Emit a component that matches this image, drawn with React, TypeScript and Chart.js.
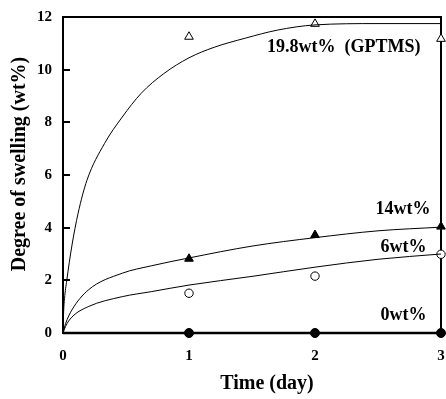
import React, { useEffect, useRef } from "react";
import { Chart, registerables } from "chart.js";
Chart.register(...registerables);

// ---- data ----
const timeTicks = [0, 1, 2, 3];
const swellingTicks = [0, 2, 4, 6, 8, 10, 12];

// measured points (time in days, swelling in wt%)
const measTime = [1, 2, 3];
const gptms198 = [11.25, 11.74, 11.17];
const wt14 = [2.82, 3.72, 4.04];
const wt6 = [1.51, 2.16, 2.99];
const wt0 = [0, 0, 0];

// fitted curves
const fit198T = [0, 0.004, 0.012, 0.03, 0.07, 0.12, 0.19, 0.33, 0.47, 0.62, 0.8, 1.0, 1.2, 1.45, 1.7, 2.0, 2.5, 3.0];
const fit198V = [0, 0.7, 1.3, 2.0, 3.3, 4.55, 5.8, 7.2, 8.2, 9.1, 9.85, 10.45, 10.85, 11.2, 11.5, 11.7, 11.75, 11.75];
const fit14T = [0, 0.02, 0.07, 0.2, 0.47, 0.7, 1.0, 1.5, 2.0, 2.5, 3.0];
const fit14V = [0, 0.35, 0.87, 1.63, 2.27, 2.55, 2.85, 3.3, 3.62, 3.88, 4.02];
const fit6T = [0, 0.02, 0.07, 0.2, 0.47, 0.7, 1.0, 1.5, 2.0, 2.5, 3.0];
const fit6V = [0, 0.25, 0.6, 1.0, 1.38, 1.57, 1.82, 2.15, 2.5, 2.8, 3.0];
const fit0T = [0, 1, 2, 3];
const fit0V = [0, 0, 0, 0];

const seriesLabels = ["19.8wt%  (GPTMS)", "14wt%", "6wt%", "0wt%"];
const labelAnchorT = [1.62, 2.48, 2.52, 2.52];
const labelAnchorV = [10.86, 4.71, 3.27, 0.68];

const xTitle = "Time (day)";
const yTitle = "Degree of swelling (wt%)";

const pts = (xs: number[], ys: number[]) => xs.map((x, i) => ({ x, y: ys[i] }));

const FONT = '"Liberation Serif", "Times New Roman", serif';

const zeroPad = (s: any) => {
  s.paddingLeft = 0;
  s.paddingRight = 0;
  s.paddingTop = 0;
  s.paddingBottom = 0;
};

const overlay = {
  id: "overlay",
  beforeDatasetsDraw(chart: any) {
    const { ctx, chartArea: a, scales } = chart;
    const ys = scales.y;
    ctx.save();
    ctx.strokeStyle = "#000";
    ctx.lineWidth = 2;
    ctx.strokeRect(a.left, a.top, a.right - a.left, a.bottom - a.top);
    // inward tick marks on the left axis
    ctx.beginPath();
    ys.ticks.forEach((t: any) => {
      const py = Math.round(ys.getPixelForValue(t.value));
      ctx.moveTo(a.left, py);
      ctx.lineTo(a.left + 7, py);
    });
    ctx.stroke();
    ctx.restore();
  },
  afterDatasetsDraw(chart: any) {
    const { ctx, chartArea: a, scales } = chart;
    const xs = scales.x;
    const ys = scales.y;
    ctx.save();
    ctx.fillStyle = "#000";
    ctx.font = `bold 18px ${FONT}`;
    ctx.textAlign = "left";
    ctx.textBaseline = "middle";
    seriesLabels.forEach((t, i) => {
      ctx.fillText(t, xs.getPixelForValue(labelAnchorT[i]), ys.getPixelForValue(labelAnchorV[i]));
    });
    // axis titles
    ctx.font = `bold 20px ${FONT}`;
    ctx.textAlign = "center";
    ctx.fillText(xTitle, a.left + 204, a.bottom + 51);
    ctx.translate(20, a.top + 147);
    ctx.rotate(-Math.PI / 2);
    ctx.font = `bold 20px ${FONT}`;
    ctx.fillText(yTitle, 0, 0);
    ctx.restore();
  },
};

export default function App() {
  const ref = useRef<HTMLCanvasElement>(null);
  useEffect(() => {
    if (!ref.current) return;
    const curve = (data: any, width = 1) => ({
      data,
      borderColor: "#000",
      borderWidth: width,
      pointRadius: 0,
      showLine: true,
      fill: false,
      cubicInterpolationMode: "monotone",
      clip: false,
    });
    const marks = (data: any, style: string, filled: boolean, r: number) => ({
      data,
      showLine: false,
      pointStyle: style,
      pointRadius: r,
      pointBorderWidth: 1,
      pointBorderColor: "#000",
      pointBackgroundColor: filled ? "#000" : "#fff",
      clip: false,
    });
    const chart = new Chart(ref.current, {
      type: "line",
      data: {
        datasets: [
          curve(pts(fit198T, fit198V)),
          curve(pts(fit14T, fit14V)),
          curve(pts(fit6T, fit6V)),
          curve(pts(fit0T, fit0V), 2.5),
          marks(pts(measTime, gptms198), "triangle", false, 5),
          marks(pts(measTime, wt14), "triangle", true, 5),
          marks(pts(measTime, wt6), "circle", false, 4.2),
          marks(pts(measTime, wt0), "circle", true, 4.5),
        ] as any,
      },
      options: {
        animation: false,
        responsive: false,
        events: [],
        layout: { padding: { top: 17, right: 5, left: 0, bottom: 0 }, autoPadding: false } as any,
        plugins: { legend: { display: false }, tooltip: { enabled: false } },
        scales: {
          x: {
            type: "linear",
            min: 0,
            max: 3,
            afterBuildTicks: (s: any) => {
              s.ticks = timeTicks.map((v) => ({ value: v }));
            },
            afterFit: (s: any) => {
              s.height = 66;
              zeroPad(s);
            },
            grid: { display: false, drawTicks: false },
            border: { display: false },
            ticks: {
              color: "#000",
              font: { family: FONT, size: 15, weight: "bold" },
              padding: 14,
              maxRotation: 0,
            },
          },
          y: {
            type: "linear",
            min: 0,
            max: 12,
            afterBuildTicks: (s: any) => {
              s.ticks = swellingTicks.map((v) => ({ value: v }));
            },
            afterFit: (s: any) => {
              s.width = 63;
              zeroPad(s);
            },
            grid: { display: false, drawTicks: false },
            border: { display: false },
            ticks: {
              color: "#000",
              font: { family: FONT, size: 15, weight: "bold" },
              padding: 11,
            },
          },
        },
      },
      plugins: [overlay],
    });
    return () => chart.destroy();
  }, []);
  return (
    <div style={{ position: "fixed", left: 0, top: 0, width: 446, height: 399, background: "#fff" }}>
      <canvas ref={ref} width={446} height={399} />
    </div>
  );
}
